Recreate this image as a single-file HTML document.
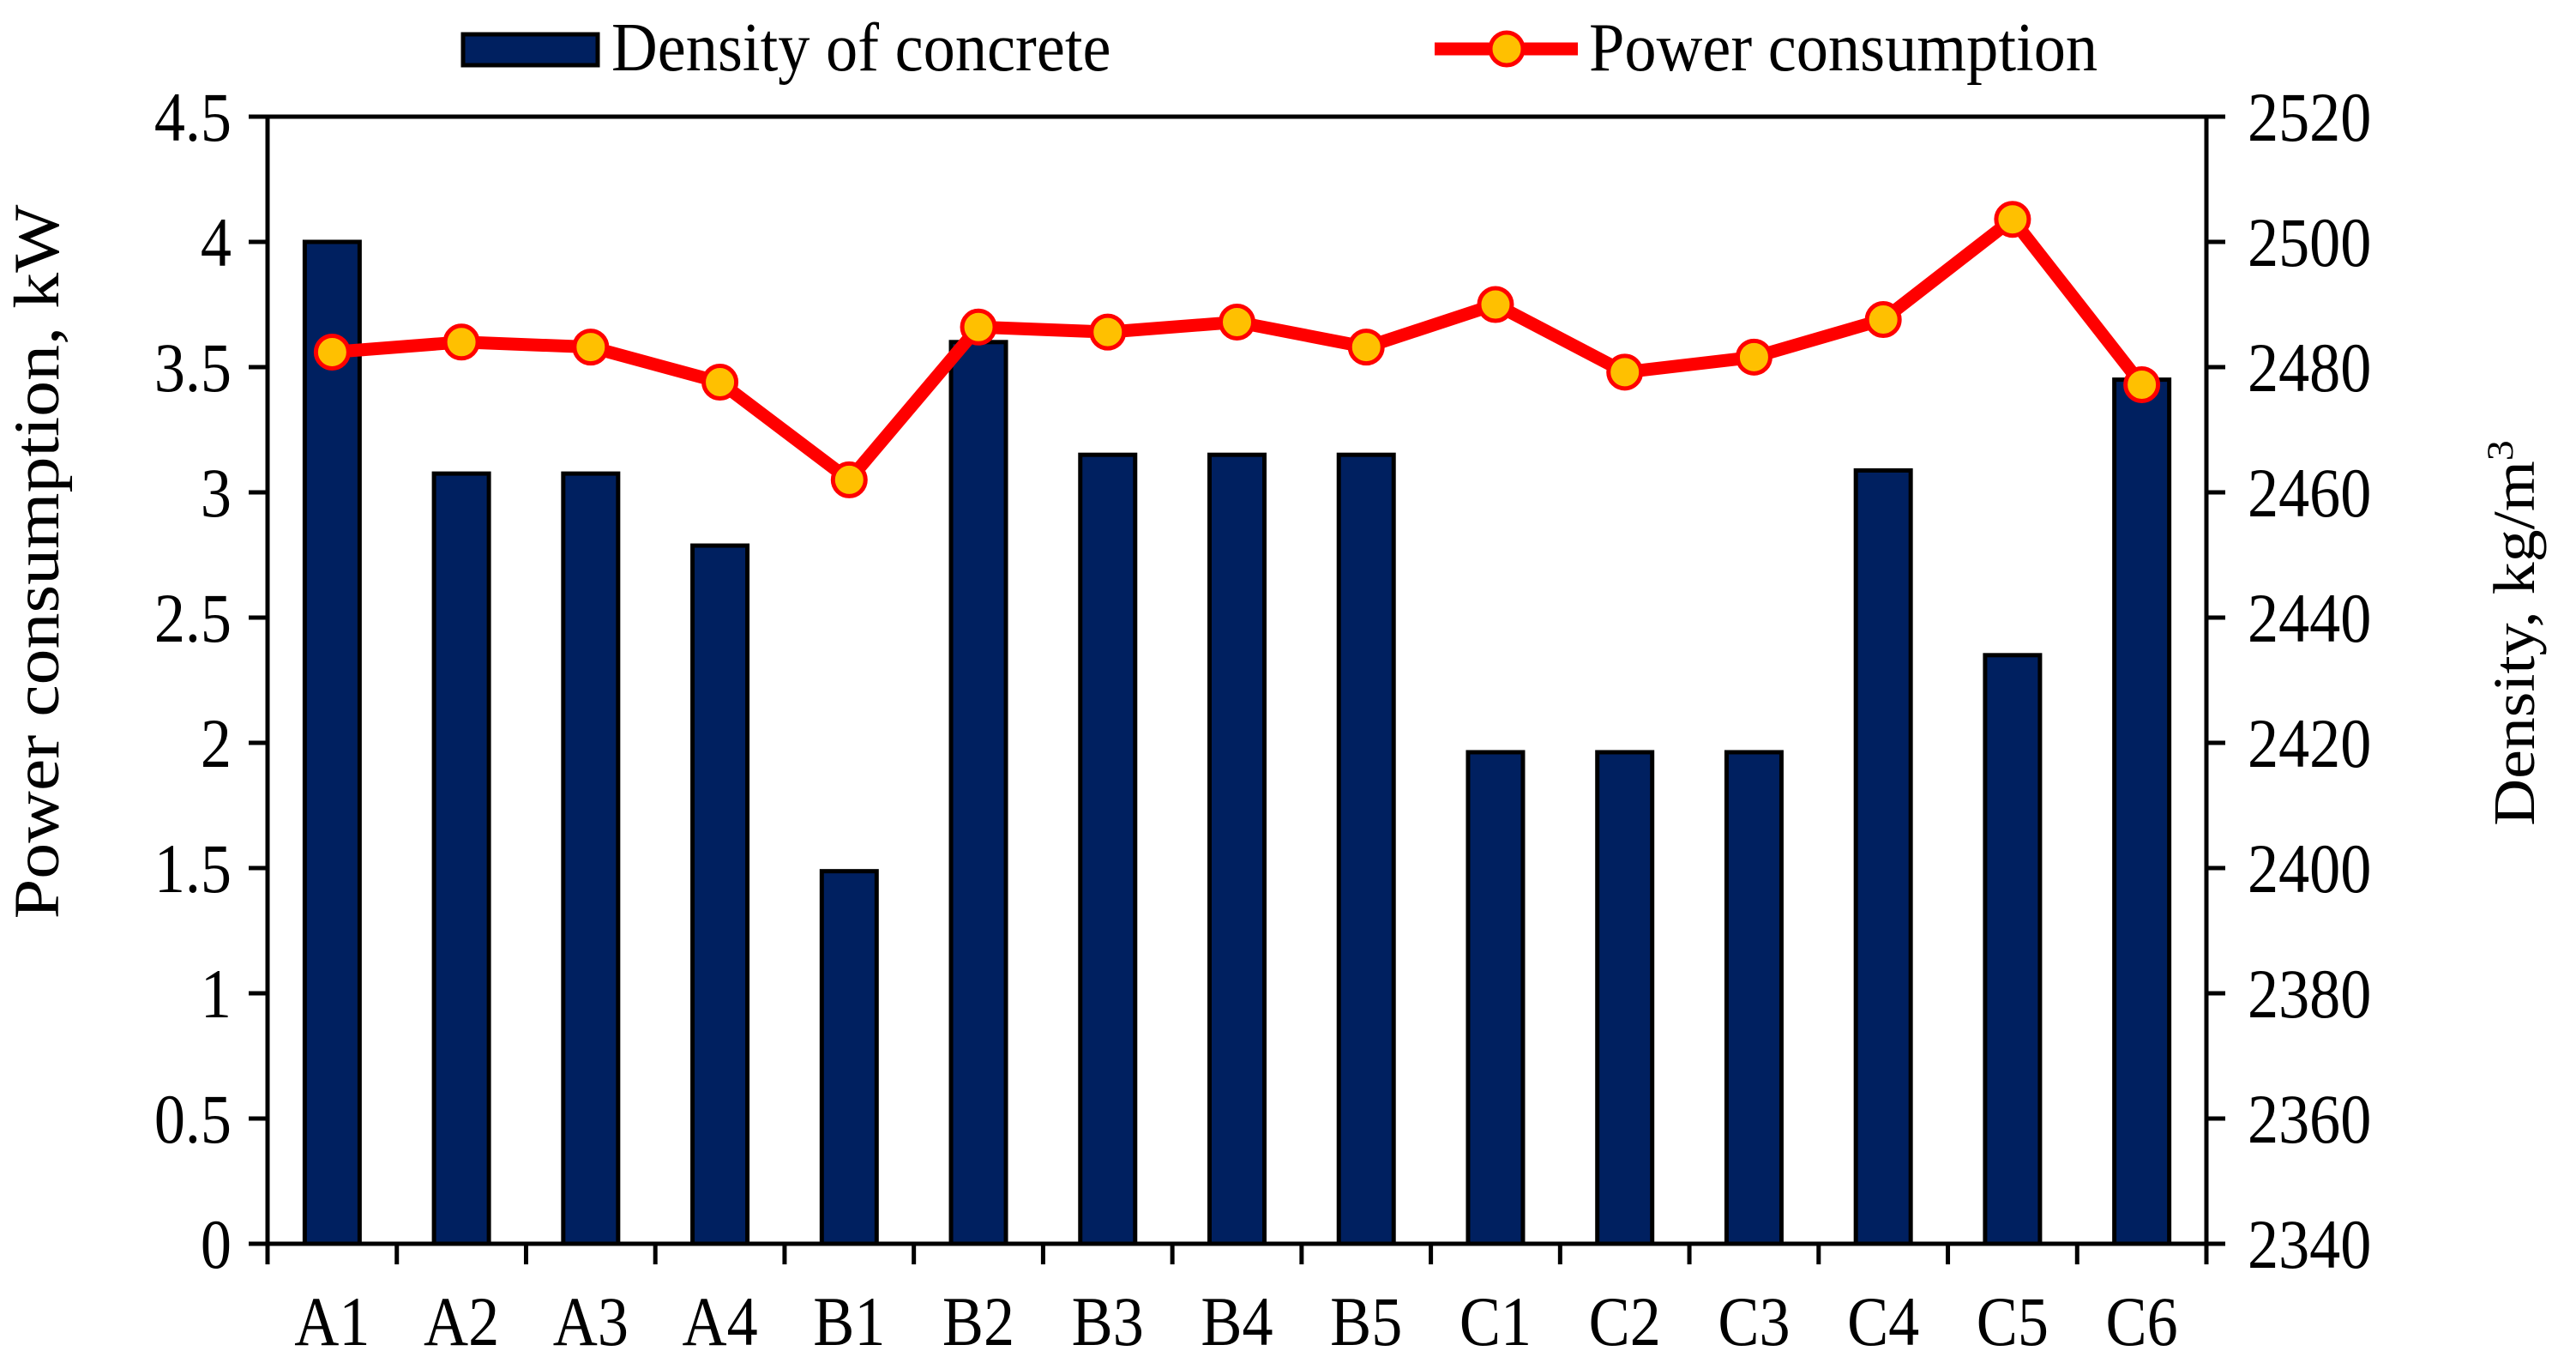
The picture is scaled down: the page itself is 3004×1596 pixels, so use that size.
<!DOCTYPE html>
<html><head><meta charset="utf-8"><style>
html,body{margin:0;padding:0;background:#fff;}
svg{display:block;font-family:"Liberation Serif",serif;}
</style></head><body>
<svg id="chart" width="3004" height="1596" viewBox="0 0 3004 1596" xmlns="http://www.w3.org/2000/svg">
<g id="legend">
 <rect x="540" y="40" width="157" height="36" fill="#002060" stroke="#000" stroke-width="5"/>
 <text transform="translate(713,82) scale(0.93,1)" font-size="80">Density of concrete</text>
 <line x1="1673" y1="57" x2="1840" y2="57" stroke="#FF0000" stroke-width="15"/>
 <circle cx="1757" cy="57" r="19" fill="#FFC000" stroke="#FF0000" stroke-width="5"/>
 <text transform="translate(1853,82) scale(0.93,1)" font-size="80">Power consumption</text>
</g>
<g id="bars"></g><g id="line"></g><g id="axes"></g>
<text transform="translate(68,655) rotate(-90) scale(1,0.9)" text-anchor="middle" font-size="84">Power consumption, kW</text>
<text transform="translate(2955,738) rotate(-90) scale(1,0.9)" text-anchor="middle" font-size="76">Density, kg/m<tspan font-size="48" dy="-28">3</tspan></text>
</svg>
<script>
const categories = ["A1","A2","A3","A4","B1","B2","B3","B4","B5","C1","C2","C3","C4","C5","C6"];
const density = [2500,2463,2463,2451.5,2399.5,2484,2466,2466,2466,2418.5,2418.5,2418.5,2463.5,2434,2478];
const power = [3.56,3.60,3.58,3.44,3.05,3.66,3.64,3.68,3.58,3.75,3.48,3.54,3.69,4.09,3.43];
const leftTicks = ["0","0.5","1","1.5","2","2.5","3","3.5","4","4.5"];
const rightTicks = ["2340","2360","2380","2400","2420","2440","2460","2480","2500","2520"];
const L=312,R=2573,T=136,B=1450;
const NS="http://www.w3.org/2000/svg";
const yL=v=>B-(v-0)/4.5*(B-T);
const yR=v=>B-(v-2340)/180*(B-T);
const bw=(R-L)/categories.length;
const xC=i=>L+bw*(i+0.5);
function mk(tag,attrs,parent){const e=document.createElementNS(NS,tag);for(const k in attrs)e.setAttribute(k,attrs[k]);parent.appendChild(e);return e;}
const gb=document.getElementById('bars'),gl=document.getElementById('line'),ga=document.getElementById('axes');
density.forEach((d,i)=>{
 const w=64;
 const r=mk('rect',{x:xC(i)-w/2,y:yR(d),width:w,height:B-yR(d),fill:'#002060',stroke:'#000','stroke-width':5},gb);
 
 
});
const pl=mk('polyline',{points:power.map((p,i)=>xC(i)+','+yL(p)).join(' '),fill:'none',stroke:'#FF0000','stroke-width':15,'stroke-linejoin':'round'},gl);


power.forEach((p,i)=>{
 const c=mk('circle',{cx:xC(i),cy:yL(p),r:19,fill:'#FFC000',stroke:'#FF0000','stroke-width':5},gl);
 
 
});
const frame=mk('path',{d:`M${L},${T}H${R}V${B}H${L}Z`,fill:'none',stroke:'#000','stroke-width':5},ga);


leftTicks.forEach((t,i)=>{
 const y=T+(B-T)*(1-i/(leftTicks.length-1));
 mk('line',{x1:L-22,x2:L,y1:y,y2:y,stroke:'#000','stroke-width':5},ga);
 const tx=mk('text',{transform:`translate(${L-42},${y+28}) scale(0.88,1)`,'text-anchor':'end','font-size':82},ga);
 tx.textContent=t;
 
 
});
rightTicks.forEach((t,i)=>{
 const y=T+(B-T)*(1-i/(rightTicks.length-1));
 mk('line',{x1:R,x2:R+22,y1:y,y2:y,stroke:'#000','stroke-width':5},ga);
 const tx=mk('text',{transform:`translate(${R+48},${y+28}) scale(0.88,1)`,'font-size':82},ga);
 tx.textContent=t;
 
 
});
for(let i=0;i<=categories.length;i++){
 const x=L+bw*i;
 mk('line',{x1:x,x2:x,y1:B,y2:B+24,stroke:'#000','stroke-width':5},ga);
}
categories.forEach((c,i)=>{
 const tx=mk('text',{transform:`translate(${xC(i)},1568) scale(0.88,1)`,'text-anchor':'middle','font-size':82},ga);
 tx.textContent=c;
 
 
});
</script>
</body></html>
